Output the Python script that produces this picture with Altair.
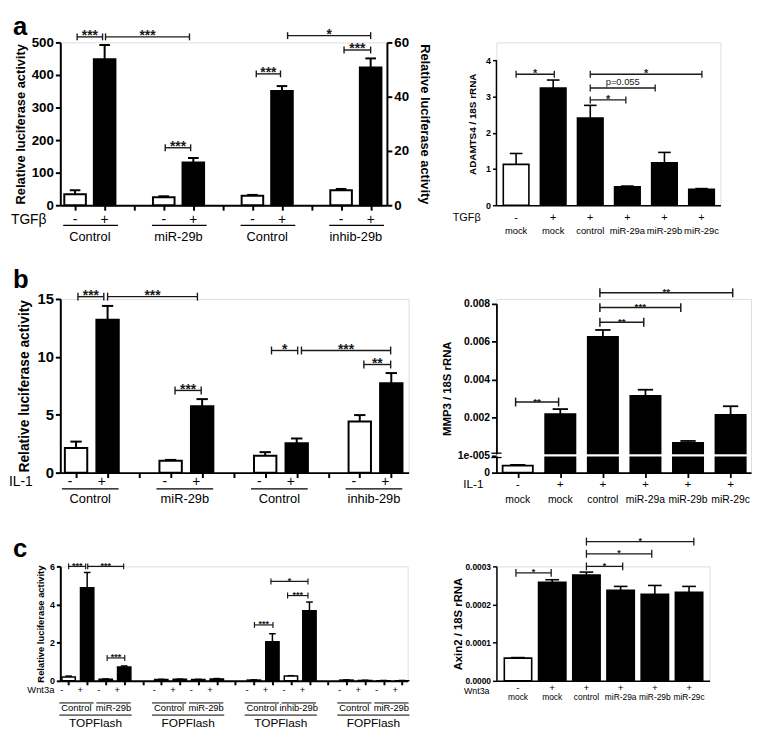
import altair as alt
import pandas as pd

FONT = "Liberation Sans"

# ---------------- panel a, left (TGFbeta luciferase) ----------------
aL_pos_left = [0, 1, 3, 4]
aL_val_left = [34, 448, 24.5, 131]
aL_err_left = [46, 492, 27.5, 145]
aL_fill_left = ["white", "black", "white", "black"]
aL_pos_right = [6, 7, 9, 10]
aL_val_right = [3.5, 42.1, 5.5, 50.8]
aL_err_right = [3.8, 43.9, 6.0, 54.1]
aL_fill_right = ["white", "black", "white", "black"]
aL_sign_pos = [0, 1, 3, 4, 6, 7, 9, 10]
aL_signs = ["-", "+", "-", "+", "-", "+", "-", "+"]
aL_groups = ["Control", "miR-29b", "Control", "inhib-29b"]
aL_group_start = [0, 3, 6, 9]
aL_sig_left = {"x1": [0.07, 1.03, 3.05], "x2": [0.93, 3.87, 3.91],
               "y": [517, 517, 176.5], "lab": ["***", "***", "***"]}
aL_sig_right = {"x1": [6.13, 9.1, 7.19], "x2": [6.95, 10.0, 10.0],
                "y": [48.4, 57.2, 62.5], "lab": ["***", "***", "*"]}

# ---------------- panel a, right (ADAMTS4) ----------------
aR_cats = ["mock", "mock", "control", "miR-29a", "miR-29b", "miR-29c"]
aR_signs = ["-", "+", "+", "+", "+", "+"]
aR_val = [1.13, 3.24, 2.41, 0.51, 1.17, 0.44]
aR_err = [1.43, 3.46, 2.76, 0.53, 1.46, 0.46]
aR_fill = ["white", "black", "black", "black", "black", "black"]
aR_sig = {"x1": [0.0, 2.0, 2.0, 2.0], "x2": [1.03, 5.01, 3.75, 2.96],
          "y": [3.62, 3.62, 3.24, 2.91], "lab": ["*", "*", "p=0.055", "*"]}

# ---------------- panel b, left (IL-1 luciferase) ----------------
bL_pos = [0, 1, 3, 4, 6, 7, 9, 10]
bL_val = [2.13, 13.2, 1.02, 5.74, 1.46, 2.54, 4.42, 7.73]
bL_err = [2.68, 14.4, 1.1, 6.35, 1.77, 2.95, 4.97, 8.6]
bL_fill = ["white", "black"] * 4
bL_signs = ["-", "+"] * 4
bL_groups = ["Control", "miR-29b", "Control", "inhib-29b"]
bL_group_start = [0, 3, 6, 9]
bL_sig = {"x1": [0.06, 1.0, 3.14, 6.2, 7.15, 9.13],
          "x2": [0.88, 3.85, 3.97, 7.03, 9.98, 9.98],
          "y": [15.2, 15.2, 7.1, 10.55, 10.55, 9.34],
          "lab": ["***", "***", "***", "*", "***", "**"]}

# ---------------- panel b, right (MMP3) ----------------
bR_cats = ["mock", "mock", "control", "miR-29a", "miR-29b", "miR-29c"]
bR_signs = ["-", "+", "+", "+", "+", "+"]
bR_val = [0.000004, 0.00219, 0.00626, 0.00314, 0.00067, 0.00215]
bR_err = [0.0000045, 0.00245, 0.00662, 0.00347, 0.00077, 0.0026]
bR_fill = ["white", "black", "black", "black", "black", "black"]
bR_sig = {"x1": [-0.05, 1.93, 1.93, 1.93], "x2": [0.96, 2.96, 3.83, 5.05],
          "y": [0.00282, 0.00703, 0.0078, 0.00858], "lab": ["**", "**", "***", "**"]}
bR_ticks = [0, 0.00001, 0.002, 0.004, 0.006, 0.008]

# ---------------- panel c, left (Wnt3a TOP/FOPFlash) ----------------
cL_pos = [0, 1, 2, 3, 5, 6, 7, 8, 10, 11, 12, 13, 15, 16, 17, 18]
cL_val = [0.2, 4.88, 0.08, 0.72, 0.07, 0.08, 0.07, 0.1,
          0.04, 2.05, 0.25, 3.67, 0.04, 0.02, 0.01, 0.01]
cL_err = [0.25, 5.68, 0.1, 0.78, 0.08, 0.09, 0.08, 0.12,
          0.05, 2.47, 0.27, 4.13, 0.05, 0.03, 0.02, 0.02]
cL_fill = ["white", "black"] * 8
cL_signs = ["-", "+"] * 8
cL_sub = ["Control", "miR-29b", "Control", "miR-29b", "Control", "inhib-29b", "Control", "miR-29b"]
cL_sub_start = [0, 2, 5, 7, 10, 12, 15, 17]
cL_top = ["TOPFlash", "FOPFlash", "TOPFlash", "FOPFlash"]
cL_top_start = [0, 5, 10, 15]
cL_sig = {"x1": [0.0, 1.03, 2.08, 10.03, 11.82, 10.92],
          "x2": [0.92, 2.97, 3.03, 11.03, 12.92, 12.92],
          "y": [6.0, 6.0, 1.2, 2.93, 4.47, 5.21],
          "lab": ["***", "***", "***", "***", "***", "*"]}

# ---------------- panel c, right (Axin2) ----------------
cR_cats = ["mock", "mock", "control", "miR-29a", "miR-29b", "miR-29c"]
cR_signs = ["-", "+", "+", "+", "+", "+"]
cR_val = [0.0000595, 0.0002585, 0.000277, 0.0002375, 0.000227, 0.000232]
cR_err = [0.000061, 0.000265, 0.000285, 0.0002475, 0.00025, 0.0002475]
cR_fill = ["white", "black", "black", "black", "black", "black"]
cR_sig = {"x1": [-0.06, 2.0, 2.0, 2.0], "x2": [0.97, 3.06, 3.91, 5.14],
          "y": [0.000283, 0.0003, 0.000333, 0.000365], "lab": ["*", "*", "*", "*"]}


# ---------------- helpers ----------------
class Ctx:
    def __init__(self, xs, xax, ys, yax):
        self.xs, self.xax, self.ys, self.yax = xs, xax, ys, yax

    def X(self, f):
        return alt.X(f, type="quantitative", scale=self.xs, axis=self.xax)

    def Y(self, f):
        return alt.Y(f, type="quantitative", scale=self.ys, axis=self.yax)

    def YD(self, v):
        return alt.YDatum(v, type="quantitative", scale=self.ys, axis=self.yax)


def xscale(dom):
    return alt.Scale(domain=dom, nice=False, zero=False)


def xaxis(ticks, tsize, dw):
    kw = dict(labels=False, title=None, grid=False, domainColor="black", domainWidth=dw)
    if ticks:
        kw.update(values=ticks, ticks=True, tickColor="black", tickWidth=dw, tickSize=tsize)
    else:
        kw.update(ticks=False)
    return alt.Axis(**kw)


def yaxis(ticks, title, lfs, tfs, tpad, orient="left", domain=True, fmt=None,
          expr=None, dw=2, tsize=5):
    kw = dict(values=ticks, title=title, orient=orient, grid=False, domain=domain,
              domainColor="black", domainWidth=dw, tickColor="black", tickWidth=dw,
              tickSize=tsize, labelFont=FONT, labelFontSize=lfs, labelFontWeight="bold",
              labelColor="black", labelPadding=2, labelFlush=False, labelOverlap=False,
              titleFont=FONT, titleFontSize=tfs, titleFontWeight="bold",
              titleColor="black", titlePadding=tpad)
    if fmt:
        kw["format"] = fmt
    if expr:
        kw["labelExpr"] = expr
    return alt.Axis(**kw)


def bars(c, pos, val, err, fill, half, cap, sw=2.0):
    df = pd.DataFrame({"pos": pos, "val": val, "err": err, "fill": fill})
    base = alt.Chart(df).transform_calculate(
        x0=f"datum.pos - {half}", x1=f"datum.pos + {half}",
        c0=f"datum.pos - {cap}", c1=f"datum.pos + {cap}", zero="0")
    e = base.mark_rule(color="black", strokeWidth=sw).encode(
        x=c.X("pos"), y=c.Y("val"), y2=alt.Y2("err"))
    k = base.mark_rule(color="black", strokeWidth=sw).encode(
        x=c.X("c0"), x2=alt.X2("c1"), y=c.Y("err"))
    b = base.mark_bar(stroke="black", strokeWidth=sw).encode(
        x=c.X("x0"), x2=alt.X2("x1"), y=c.Y("val"), y2=alt.Y2("zero"),
        fill=alt.Fill("fill:N", scale=None))
    return [e, k, b]


def brackets(c, sig, fs, cap=3.5, sw=1.4, pfs=9.5):
    df = pd.DataFrame(sig)
    base = alt.Chart(df).transform_calculate(xm="(datum.x1 + datum.x2) / 2")
    col = "#1a1a1a"
    h = base.mark_rule(color=col, strokeWidth=sw).encode(
        x=c.X("x1"), x2=alt.X2("x2"), y=c.Y("y"))
    l = base.mark_rule(color=col, strokeWidth=sw, yOffset=-cap, y2Offset=cap).encode(
        x=c.X("x1"), y=c.Y("y"), y2=alt.Y2("y"))
    r = base.mark_rule(color=col, strokeWidth=sw, yOffset=-cap, y2Offset=cap).encode(
        x=c.X("x2"), y=c.Y("y"), y2=alt.Y2("y"))
    s = base.transform_filter("indexof(datum.lab, '*') >= 0").mark_text(
        font=FONT, fontSize=fs, fontWeight="bold", baseline="alphabetic",
        dy=0.25 * fs, color=col).encode(x=c.X("xm"), y=c.Y("y"), text="lab:N")
    p = base.transform_filter("indexof(datum.lab, '*') < 0").mark_text(
        font=FONT, fontSize=pfs, baseline="bottom", dy=-1, color=col).encode(
        x=c.X("xm"), y=c.Y("y"), text="lab:N")
    return [h, l, r, s, p]


def texts(c, xs_, labels, dy, fs, dx=0, align="center", weight="normal"):
    df = pd.DataFrame({"x": xs_, "t": labels})
    return alt.Chart(df).mark_text(
        font=FONT, fontSize=fs, fontWeight=weight, dx=dx, dy=dy, align=align,
        baseline="middle", color="black").encode(x=c.X("x"), y=c.YD(0), text="t:N")


def letter(c, x, ytop, txt, dy):
    df = pd.DataFrame({"x": [x], "t": [txt]})
    return alt.Chart(df).mark_text(
        font=FONT, fontSize=26, fontWeight="bold", dx=-48, dy=dy, align="left",
        baseline="top", color="black").encode(x=c.X("x"), y=c.YD(ytop), text="t:N")


def ulines(c, x1, x2, dy, sw=1.2):
    df = pd.DataFrame({"x1": x1, "x2": x2})
    return alt.Chart(df).mark_rule(color="black", strokeWidth=sw, yOffset=dy).encode(
        x=c.X("x1"), x2=alt.X2("x2"), y=c.YD(0))


# ================= panel a left =================
xsA, xaxA = xscale([-0.5, 10.55]), xaxis(list(range(11)), 5, 2)
cA1 = Ctx(xsA, xaxA, alt.Scale(domain=[0, 500], nice=False, zero=False),
          yaxis([0, 100, 200, 300, 400, 500], "Relative luciferase activity", 13.5, 13, 3.5))
cA2 = Ctx(xsA, xaxA, alt.Scale(domain=[0, 60], nice=False, zero=False),
          yaxis([0, 20, 40, 60], "Relative luciferase activity", 13.5, 13, 9, orient="right"))
aL_left = (bars(cA1, aL_pos_left, aL_val_left, aL_err_left, aL_fill_left, 0.365, 0.18)
           + brackets(cA1, aL_sig_left, 14)
           + [texts(cA1, aL_sign_pos, aL_signs, 14.6, 14),
              ulines(cA1, [s - 0.4 for s in aL_group_start], [s + 1.45 for s in aL_group_start], 20.4),
              texts(cA1, [s + 0.5 for s in aL_group_start], aL_groups, 32, 13),
              texts(cA1, [-0.5], ["TGFβ"], 14.6, 14, dx=-14, align="right"),
              letter(cA1, -0.5, 500, "a", -29)])
aL_right = (bars(cA2, aL_pos_right, aL_val_right, aL_err_right, aL_fill_right, 0.365, 0.18)
            + brackets(cA2, aL_sig_right, 14))
panel_aL = alt.layer(alt.layer(*aL_left), alt.layer(*aL_right)).resolve_scale(
    y="independent").properties(width=331, height=165)

# ================= panel a right =================
aR_pos = list(range(6))
cAR = Ctx(xscale([-0.53, 5.51]), xaxis([], 0, 1.5),
          alt.Scale(domain=[0, 4.5], nice=False, zero=False),
          yaxis([0, 1, 2, 3, 4], "ADAMTS4 / 18S rRNA", 9, 10, 8, domain=False, dw=1.5, tsize=4))
aR_axis_df = pd.DataFrame({"x": [-0.53], "y0": [0], "y1": [4]})
aR_axis = alt.Chart(aR_axis_df).mark_rule(color="black", strokeWidth=1.5).encode(
    x=cAR.X("x"), y=cAR.Y("y0"), y2=alt.Y2("y1"))
panel_aR = alt.layer(
    aR_axis,
    *bars(cAR, aR_pos, aR_val, aR_err, aR_fill, 0.345, 0.17, sw=1.6),
    *brackets(cAR, aR_sig, 11, cap=3.5, sw=1.3),
    texts(cAR, aR_pos, aR_signs, 12.6, 11),
    texts(cAR, aR_pos, aR_cats, 26, 9.5),
    texts(cAR, [-0.53], ["TGFβ"], 12.6, 11, dx=-16, align="right"),
).properties(width=227, height=165)

# ================= panel b left =================
cBL = Ctx(xscale([-0.5, 10.55]), xaxis(list(range(11)), 5, 2),
          alt.Scale(domain=[0, 15], nice=False, zero=False),
          yaxis([0, 5, 10, 15], "Relative luciferase activity", 15, 14, 6))
panel_bL = alt.layer(
    *bars(cBL, bL_pos, bL_val, bL_err, bL_fill, 0.355, 0.18),
    *brackets(cBL, bL_sig, 14, cap=4),
    texts(cBL, bL_pos, bL_signs, 9.7, 14, dx=-6),
    ulines(cBL, [s - 0.45 for s in bL_group_start], [s + 1.35 for s in bL_group_start], 16.5),
    texts(cBL, [s + 0.45 for s in bL_group_start], bL_groups, 27, 13),
    texts(cBL, [-0.5], ["IL-1"], 9.7, 14, dx=-28, align="right"),
    letter(cBL, -0.5, 15, "b", -32),
).properties(width=353, height=176)

# ================= panel b right (broken axis) =================
bR_pos = list(range(6))
cBR = Ctx(xscale([-0.5, 5.48]), xaxis(bR_pos, 5, 1.8),
          alt.Scale(domain=[0, 0.00001, 0.008], range=[176, 158.5, 4.9], nice=False, zero=False),
          yaxis(bR_ticks, "MMP3 / 18S rRNA", 10.5, 11.5, 5, dw=1.8,
                expr="datum.value == 0 ? '0' : (datum.value < 0.0001 ? '1e-005' : format(datum.value, '.3f'))"))
brk_df = pd.DataFrame({"x1": [-0.5], "x2": [5.48], "y": [0.00001]})
brk_white = alt.Chart(brk_df).mark_rule(color="white", strokeWidth=2.2).encode(
    x=cBR.X("x1"), x2=alt.X2("x2"), y=cBR.Y("y"))
eq_df = pd.DataFrame({"x1": [-0.62], "x2": [-0.38], "y": [0.00001]})
eq_top = alt.Chart(eq_df).mark_rule(color="black", strokeWidth=1.3, yOffset=-2.2).encode(
    x=cBR.X("x1"), x2=alt.X2("x2"), y=cBR.Y("y"))
eq_bot = alt.Chart(eq_df).mark_rule(color="black", strokeWidth=1.3, yOffset=2.2).encode(
    x=cBR.X("x1"), x2=alt.X2("x2"), y=cBR.Y("y"))
panel_bR = alt.layer(
    *bars(cBR, bR_pos, bR_val, bR_err, bR_fill, 0.355, 0.18, sw=1.8),
    brk_white, eq_top, eq_bot,
    *brackets(cBR, bR_sig, 10, cap=4.5, sw=1.5),
    texts(cBR, bR_pos, bR_signs, 11.5, 12),
    texts(cBR, bR_pos, bR_cats, 27.5, 10.5),
    texts(cBR, [-0.5], ["IL-1"], 12, 12, dx=-13, align="right"),
).properties(width=258, height=176)

# ================= panel c left =================
cCL = Ctx(xscale([-0.45, 18.3]), xaxis(list(range(19)), 4, 2),
          alt.Scale(domain=[0, 6], nice=False, zero=False),
          yaxis([0, 2, 4, 6], "Relative luciferase activity", 9, 9.5, 4.5, tsize=4))
panel_cL = alt.layer(
    *bars(cCL, cL_pos, cL_val, cL_err, cL_fill, 0.36, 0.18, sw=1.5),
    *brackets(cCL, cL_sig, 9, cap=3, sw=1.2),
    texts(cCL, cL_pos, cL_signs, 9.7, 9.5, dx=-7),
    ulines(cCL, [s - 0.5 for s in cL_sub_start], [s + 1.35 for s in cL_sub_start], 22.4, sw=1),
    texts(cCL, [s + 0.42 for s in cL_sub_start], cL_sub, 28, 9.5),
    ulines(cCL, [s - 0.5 for s in cL_top_start], [s + 3.4 for s in cL_top_start], 34.7, sw=1),
    texts(cCL, [s + 1.45 for s in cL_top_start], cL_top, 42.5, 12),
    texts(cCL, [-0.45], ["Wnt3a"], 9.7, 9.5, dx=-6, align="right"),
    letter(cCL, -0.45, 6, "c", -30),
).properties(width=352, height=116)

# ================= panel c right =================
cR_pos = list(range(6))
cCR = Ctx(xscale([-0.63, 5.6]), xaxis([], 0, 1.5),
          alt.Scale(domain=[0, 0.0003], nice=False, zero=False),
          yaxis([0, 0.0001, 0.0002, 0.0003], "Axin2 / 18S rRNA", 8.5, 11.5, 1,
                fmt=".4f", dw=1.5, tsize=4))
panel_cR = alt.layer(
    *bars(cCR, cR_pos, cR_val, cR_err, cR_fill, 0.4, 0.2, sw=1.6),
    *brackets(cCR, cR_sig, 9, cap=4, sw=1.3),
    texts(cCR, cR_pos, cR_signs, 7, 10),
    texts(cCR, cR_pos, cR_cats, 16.5, 8.5),
    texts(cCR, [-0.63], ["Wnt3a"], 10, 9, dx=-7, align="right"),
).properties(width=216, height=116)

chart = alt.concat(
    panel_aL, panel_aR, panel_bL, panel_bR, panel_cL, panel_cR,
    columns=2, spacing=alt.RowColnumber(row=95, column=89), bounds="flush", align="each",
).properties(padding=0).configure_view(stroke=None).configure(font=FONT)

chart.save("out.html", embed_options={"renderer": "svg", "actions": False})
